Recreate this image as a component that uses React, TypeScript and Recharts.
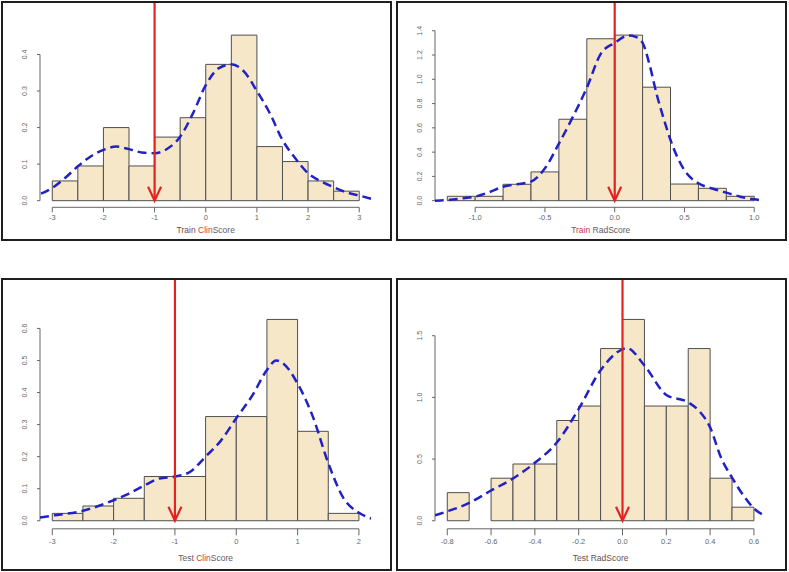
import React from 'react'
import { ComposedChart, Line, XAxis, YAxis, ReferenceArea, ReferenceLine } from 'recharts'

// Train ClinScore
const trainClinBreaks = [-3, -2.5, -2, -1.5, -1, -0.5, 0, 0.5, 1, 1.5, 2, 2.5, 3]
const trainClinHeights = [0.054, 0.095, 0.2, 0.095, 0.174, 0.227, 0.373, 0.453, 0.148, 0.107, 0.054, 0.026]
const trainClinKdeX = [-3.22, -3, -2.75, -2.5, -2.25, -2, -1.75, -1.5, -1.25, -1, -0.75, -0.5, -0.25, 0, 0.25, 0.5, 0.75, 1, 1.25, 1.5, 1.75, 2, 2.25, 2.5, 2.75, 3, 3.24]
const trainClinKdeY = [0.019, 0.035, 0.062, 0.094, 0.121, 0.139, 0.148, 0.141, 0.132, 0.13, 0.142, 0.175, 0.239, 0.316, 0.362, 0.373, 0.353, 0.3, 0.24, 0.166, 0.116, 0.075, 0.053, 0.037, 0.023, 0.014, 0.005]
const trainClinXTicks = [-3, -2, -1, 0, 1, 2, 3]
const trainClinYTicks = [0, 0.1, 0.2, 0.3, 0.4]

// Train RadScore
const trainRadBreaks = [-1.2, -1.0, -0.8, -0.6, -0.4, -0.2, 0, 0.2, 0.4, 0.6, 0.8, 1.0]
const trainRadHeights = [0.036, 0.036, 0.135, 0.237, 0.671, 1.334, 1.364, 0.935, 0.137, 0.102, 0.036]
const trainRadKdeX = [-1.29, -1.2, -1.1, -1.0, -0.9, -0.8, -0.7, -0.6, -0.5, -0.4, -0.3, -0.2, -0.1, 0, 0.1, 0.15, 0.2, 0.25, 0.3, 0.35, 0.4, 0.5, 0.6, 0.7, 0.8, 0.9, 1.0, 1.05]
const trainRadKdeY = [0.0, 0.005, 0.018, 0.033, 0.07, 0.115, 0.135, 0.157, 0.267, 0.47, 0.69, 0.93, 1.21, 1.3, 1.36, 1.35, 1.3, 1.12, 0.88, 0.68, 0.5, 0.25, 0.143, 0.1, 0.066, 0.033, 0.011, 0.004]
const trainRadXTicks = [-1.0, -0.5, 0, 0.5, 1.0]
const trainRadYTicks = [0, 0.2, 0.4, 0.6, 0.8, 1.0, 1.2, 1.4]

// Test ClinScore
const testClinBreaks = [-3, -2.5, -2, -1.5, -1, -0.5, 0, 0.5, 1, 1.5, 2]
const testClinHeights = [0.023, 0.046, 0.07, 0.138, 0.138, 0.325, 0.325, 0.628, 0.279, 0.023]
const testClinKdeX = [-3.2, -3, -2.5, -2, -1.75, -1.5, -1.25, -1, -0.75, -0.5, -0.25, 0, 0.25, 0.5, 0.65, 0.75, 1, 1.25, 1.5, 1.75, 2, 2.2]
const testClinKdeY = [0.01, 0.016, 0.031, 0.064, 0.085, 0.11, 0.132, 0.138, 0.153, 0.2, 0.25, 0.32, 0.387, 0.47, 0.5, 0.493, 0.428, 0.324, 0.18, 0.07, 0.025, 0.007]
const testClinXTicks = [-3, -2, -1, 0, 1, 2]
const testClinYTicks = [0, 0.1, 0.2, 0.3, 0.4, 0.5, 0.6]

// Test RadScore
const testRadBreaks = [-0.8, -0.7, -0.6, -0.5, -0.4, -0.3, -0.2, -0.1, 0, 0.1, 0.2, 0.3, 0.4, 0.5, 0.6]
const testRadHeights = [0.228, 0, 0.345, 0.46, 0.46, 0.813, 0.93, 1.396, 1.632, 0.93, 0.93, 1.396, 0.345, 0.11]
const testRadKdeX = [-0.856, -0.8, -0.7, -0.6, -0.5, -0.4, -0.3, -0.2, -0.1, 0, 0.02, 0.1, 0.2, 0.3, 0.35, 0.4, 0.45, 0.5, 0.55, 0.6, 0.656]
const testRadKdeY = [0.044, 0.076, 0.144, 0.245, 0.343, 0.47, 0.634, 0.907, 1.22, 1.39, 1.4, 1.26, 1.02, 0.96, 0.89, 0.757, 0.51, 0.35, 0.21, 0.1, 0.035]
const testRadXTicks = [-0.8, -0.6, -0.4, -0.2, 0, 0.2, 0.4, 0.6]
const testRadYTicks = [0, 0.5, 1.0, 1.5]

const FONT = '"Liberation Sans", Arial, sans-serif'
const BAR_FILL = '#F6E7C9'
const BAR_STROKE = '#4f4f4f'
const KDE_BLUE = '#2222C4'
const ARROW_RED = '#E32222'
const AXIS_GRAY = '#666666'

type TitlePart = { text: string; color: string }

const AxisTitle = ({ viewBox, parts, titleDy }: any) => {
  const { x, y, width } = viewBox
  return (
    <text x={x + width / 2} y={y + titleDy} textAnchor="middle" fontSize={8.5} fontFamily={FONT}>
      {parts.map((p: TitlePart, i: number) => (
        <tspan key={i} fill={p.color}>{p.text}</tspan>
      ))}
    </text>
  )
}

const XTick = ({ x, y, payload, digits, tickDy }: any) => (
  <text x={x} y={y + tickDy} textAnchor="middle" fontSize={7.5} fill={AXIS_GRAY} fontFamily={FONT}>
    {payload.value.toFixed(digits)}
  </text>
)

const YTick = ({ x, y, payload }: any) => (
  <text
    x={x}
    y={y}
    transform={`rotate(-90 ${x} ${y})`}
    textAnchor="middle"
    fontSize={7}
    fill={AXIS_GRAY}
    fontFamily={FONT}
  >
    {payload.value.toFixed(1)}
  </text>
)

const ArrowShape = (props: any) => {
  const { x1, y1, x2, y2 } = props
  return (
    <g>
      <line x1={x1} y1={y1} x2={x2} y2={y2} stroke={ARROW_RED} strokeWidth={2.2} />
      <polyline
        points={`${x2 - 6.5},${y2 - 14} ${x2},${y2} ${x2 + 6.5},${y2 - 14}`}
        fill="none"
        stroke={ARROW_RED}
        strokeWidth={2.2}
      />
    </g>
  )
}

// R style 4% padding on each side
const pad = (lo: number, hi: number): [number, number] => [lo - 0.04 * (hi - lo), hi + 0.04 * (hi - lo)]

function HistPanel(props: any) {
  const {
    left, top, width, height, margin, breaks, heights, kdeX, kdeY,
    xTicks, yTicks, xDigits, cutoff, title, tickSize, tickDy, titleDy,
  } = props
  const xDomain = pad(breaks[0], breaks[breaks.length - 1])
  const yDomain = pad(0, Math.max(...heights))
  const plotH = height - margin.top - margin.bottom
  const arrowTop = yDomain[1] + (margin.top * (yDomain[1] - yDomain[0])) / plotH
  const data = kdeX.map((x: number, i: number) => ({ x, y: kdeY[i] }))

  return (
    <>
      <div style={{ position: 'absolute', left, top, width, height }}>
        <ComposedChart
          width={width}
          height={height}
          data={data}
          margin={{ top: margin.top, right: margin.right, left: 0, bottom: 0 }}
        >
          <XAxis
            dataKey="x"
            type="number"
            domain={xDomain}
            allowDataOverflow
            ticks={xTicks}
            interval={0}
            height={margin.bottom}
            axisLine={false}
            tickLine={{ stroke: AXIS_GRAY }}
            tickSize={tickSize}
            tickMargin={0}
            tick={<XTick digits={xDigits} tickDy={tickDy} />}
            label={<AxisTitle parts={title} titleDy={titleDy} />}
          />
          <YAxis
            type="number"
            domain={yDomain}
            allowDataOverflow
            ticks={yTicks}
            interval={0}
            width={margin.left}
            axisLine={false}
            tickLine={{ stroke: AXIS_GRAY }}
            tickSize={3}
            tickMargin={10}
            tick={<YTick />}
          />
          {heights.map((h: number, i: number) =>
            h > 0 ? (
              <ReferenceArea
                key={i}
                x1={breaks[i]}
                x2={breaks[i + 1]}
                y1={0}
                y2={h}
                fill={BAR_FILL}
                fillOpacity={1}
                stroke={BAR_STROKE}
                strokeWidth={1}
                ifOverflow="visible"
              />
            ) : null
          )}
          <ReferenceLine
            segment={[{ x: xTicks[0], y: yDomain[0] }, { x: xTicks[xTicks.length - 1], y: yDomain[0] }]}
            stroke={AXIS_GRAY}
            strokeWidth={1}
            ifOverflow="visible"
          />
          <ReferenceLine
            segment={[{ x: xDomain[0], y: yTicks[0] }, { x: xDomain[0], y: yTicks[yTicks.length - 1] }]}
            stroke={AXIS_GRAY}
            strokeWidth={1}
            ifOverflow="visible"
          />
          <Line
            type="monotone"
            dataKey="y"
            stroke={KDE_BLUE}
            strokeWidth={2.5}
            strokeDasharray="9 5"
            dot={false}
            activeDot={false}
            isAnimationActive={false}
          />
          <ReferenceLine
            segment={[{ x: cutoff, y: arrowTop }, { x: cutoff, y: 0 }]}
            ifOverflow="visible"
            shape={ArrowShape}
          />
        </ComposedChart>
      </div>
      <div
        style={{
          position: 'absolute',
          left,
          top,
          width,
          height,
          border: '2px solid #1e1e1e',
          boxSizing: 'border-box',
          pointerEvents: 'none',
        }}
      />
    </>
  )
}

const topMargin = { top: 27.5, right: 20.5, left: 39, bottom: 33.7 }
const bottomMargin = { top: 33.4, right: 20.8, left: 39, bottom: 42.2 }

export default function App() {
  return (
    <div style={{ position: 'absolute', left: 0, top: 0, width: 789, height: 572, background: '#fff', overflow: 'hidden' }}>
      <HistPanel
        left={1} top={1} width={391} height={240} margin={topMargin}
        breaks={trainClinBreaks} heights={trainClinHeights} kdeX={trainClinKdeX} kdeY={trainClinKdeY}
        xTicks={trainClinXTicks} yTicks={trainClinYTicks} xDigits={0} cutoff={-1}
        tickSize={5} tickDy={7.5} titleDy={25.5}
        title={[{ text: 'Train ', color: '#7a4646' }, { text: 'Clin', color: '#cc3a3a' }, { text: 'Score', color: '#5e5e5e' }]}
      />
      <HistPanel
        left={396} top={1} width={391} height={240} margin={topMargin}
        breaks={trainRadBreaks} heights={trainRadHeights} kdeX={trainRadKdeX} kdeY={trainRadKdeY}
        xTicks={trainRadXTicks} yTicks={trainRadYTicks} xDigits={1} cutoff={0}
        tickSize={5} tickDy={7.5} titleDy={25.5}
        title={[{ text: 'Train ', color: '#c43a3a' }, { text: 'RadScore', color: '#5e5e5e' }]}
      />
      <HistPanel
        left={1} top={278} width={391} height={293} margin={bottomMargin}
        breaks={testClinBreaks} heights={testClinHeights} kdeX={testClinKdeX} kdeY={testClinKdeY}
        xTicks={testClinXTicks} yTicks={testClinYTicks} xDigits={0} cutoff={-1}
        tickSize={6.5} tickDy={9} titleDy={32}
        title={[{ text: 'Test ', color: '#5e5e5e' }, { text: 'Clin', color: '#cc3a3a' }, { text: 'Score', color: '#5e5e5e' }]}
      />
      <HistPanel
        left={396} top={278} width={391} height={293} margin={bottomMargin}
        breaks={testRadBreaks} heights={testRadHeights} kdeX={testRadKdeX} kdeY={testRadKdeY}
        xTicks={testRadXTicks} yTicks={testRadYTicks} xDigits={1} cutoff={0}
        tickSize={6.5} tickDy={9} titleDy={32}
        title={[{ text: 'Test RadScore', color: '#6a4e4e' }]}
      />
    </div>
  )
}
